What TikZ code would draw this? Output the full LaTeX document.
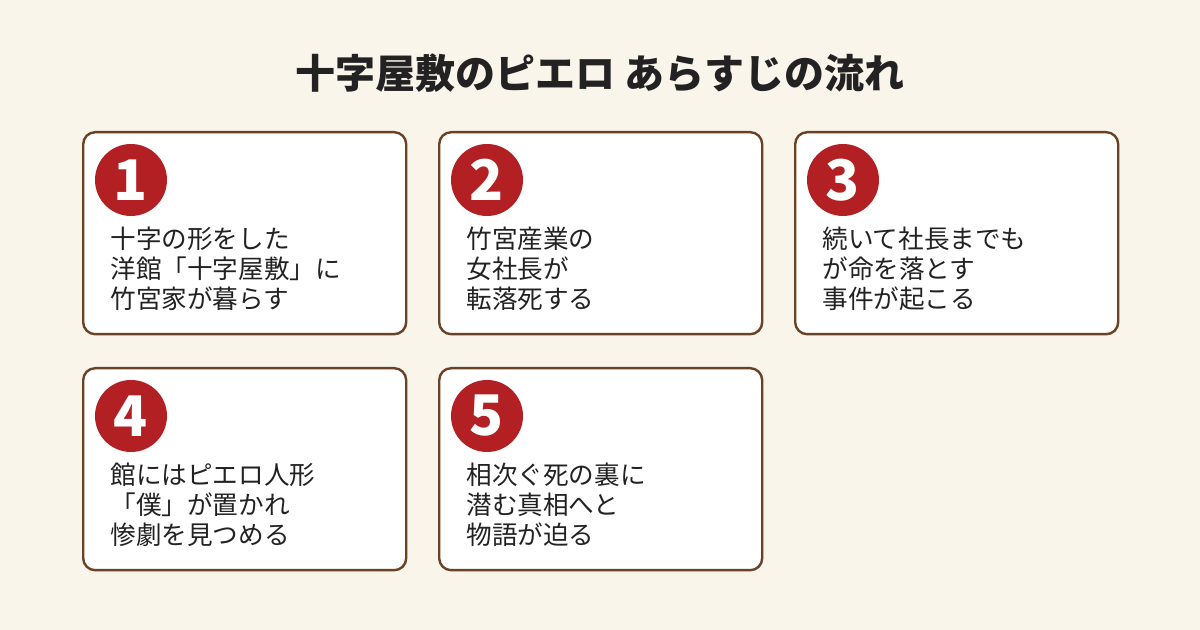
\documentclass[tikz,border=0pt]{standalone}
\usepackage{fontspec}
\setmainfont{Noto Sans CJK JP}
\usetikzlibrary{positioning}
\definecolor{cream}{HTML}{FAF5EA}
\definecolor{frame}{HTML}{6B4226}
\definecolor{badge}{HTML}{B22024}
\definecolor{ink}{HTML}{222222}
\tikzset{
  card/.style={draw=frame, line width=1.2pt, rounded corners=6pt, fill=white,
    minimum width=161.5pt, minimum height=101pt, inner sep=0pt},
  num/.style={circle, fill=badge, minimum size=36pt, inner sep=0pt,
    text=white, font=\fontsize{28}{28}\selectfont\bfseries},
  body/.style={align=left, anchor=north west, inner sep=0pt, text=ink,
    font=\fontsize{12.8}{15}\selectfont},
}
\begin{document}
\begin{tikzpicture}[x=0.5pt,y=-0.5pt]
\useasboundingbox[fill=cream] (0,0) rectangle (1200,630);
\node[font=\fontsize{20}{20}\selectfont\bfseries, text=ink] (title) at (600,73) {十字屋敷のピエロ あらすじの流れ};
% cards
\foreach \n/\x/\y/\txt in {
  1/82/131/{十字の形をした\\洋館「十字屋敷」に\\竹宮家が暮らす},
  2/438/131/{竹宮産業の\\女社長が\\転落死する},
  3/794/131/{続いて社長までも\\が命を落とす\\事件が起こる},
  4/82/367/{館にはピエロ人形\\「僕」が置かれ\\惨劇を見つめる},
  5/438/367/{相次ぐ死の裏に\\潜む真相へと\\物語が迫る}}
{
  \node[card, anchor=north west] (card\n) at (\x,\y) {};
  \node[num] (num\n) at ([xshift=24.5pt,yshift=-24.5pt]card\n.north west) {\n};
  \node[body] (text\n) at ([xshift=14pt,yshift=-48pt]card\n.north west) {\txt};
}
\end{tikzpicture}
\end{document}
